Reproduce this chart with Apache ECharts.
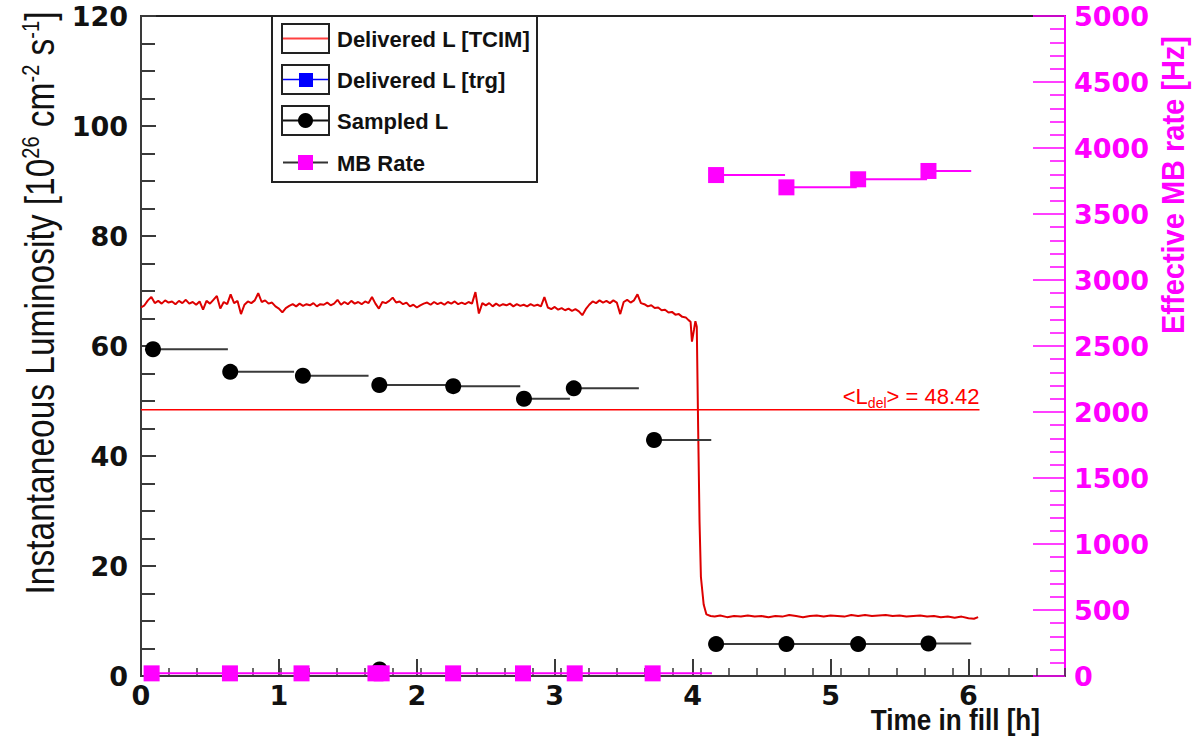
<!DOCTYPE html>
<html>
<head>
<meta charset="utf-8">
<script src="https://cdn.jsdelivr.net/npm/echarts@6/dist/echarts.min.js"></script>
<style>
html,body{margin:0;padding:0;background:#fff;}
#chart{width:1198px;height:744px;}
</style>
</head>
<body>
<div id="chart"></div>
<script>
// ---------------- DATA ----------------
// Delivered L [TCIM] trace (time in h, luminosity 1e26 cm^-2 s^-1)
const traceTime = [0.000,0.025,0.050,0.075,0.100,0.125,0.150,0.175,0.200,0.225,0.250,0.275,0.300,0.325,0.350,0.375,0.400,0.425,0.450,0.475,0.500,0.525,0.550,0.575,0.600,0.625,0.650,0.675,0.700,0.725,0.750,0.775,0.800,0.825,0.850,0.875,0.900,0.925,0.950,0.975,1.000,1.025,1.050,1.075,1.100,1.125,1.150,1.175,1.200,1.225,1.250,1.275,1.300,1.325,1.350,1.375,1.400,1.425,1.450,1.475,1.500,1.525,1.550,1.575,1.600,1.625,1.650,1.675,1.700,1.725,1.750,1.775,1.800,1.825,1.850,1.875,1.900,1.925,1.950,1.975,2.000,2.025,2.050,2.075,2.100,2.125,2.150,2.175,2.200,2.225,2.250,2.275,2.300,2.325,2.350,2.375,2.400,2.425,2.450,2.475,2.500,2.525,2.550,2.575,2.600,2.625,2.650,2.675,2.700,2.725,2.750,2.775,2.800,2.825,2.850,2.875,2.900,2.925,2.950,2.975,3.000,3.025,3.050,3.075,3.100,3.125,3.150,3.175,3.200,3.225,3.250,3.275,3.300,3.325,3.350,3.375,3.400,3.425,3.450,3.475,3.500,3.525,3.550,3.575,3.600,3.625,3.650,3.675,3.700,3.725,3.750,3.775,3.800,3.825,3.850,3.875,3.900,3.925,3.950,3.970,3.985,3.995,4.010,4.020,4.030,4.040,4.050,4.060,4.080,4.100,4.130,4.160,4.200,4.250,4.300,4.350,4.400,4.450,4.500,4.550,4.600,4.650,4.700,4.750,4.800,4.850,4.900,4.950,5.000,5.050,5.100,5.150,5.200,5.250,5.300,5.350,5.400,5.450,5.500,5.550,5.600,5.650,5.700,5.750,5.800,5.850,5.900,5.950,6.000,6.040,6.070];
const traceLumi = [67.0,67.4,68.3,68.9,67.8,68.2,67.7,68.3,67.9,68.1,67.6,68.2,67.8,68.4,67.7,68.0,67.5,68.1,66.6,68.2,67.7,68.4,69.1,66.8,68.0,67.6,69.4,67.8,68.2,65.8,67.5,68.1,67.8,68.3,69.6,68.0,68.3,67.7,67.9,67.2,66.8,66.1,66.9,67.3,67.6,67.2,67.7,67.3,67.6,67.4,67.8,67.2,67.6,67.5,67.9,67.4,67.7,68.4,67.5,68.0,67.6,68.2,67.7,68.0,67.6,68.1,67.8,68.9,67.7,66.8,68.0,67.8,68.2,68.8,67.9,68.1,67.6,67.9,67.2,67.5,67.0,67.4,67.7,67.9,67.5,68.0,67.6,67.9,67.5,68.0,67.7,68.1,67.6,67.9,67.6,68.0,67.7,69.8,65.9,67.8,67.4,67.8,67.2,67.7,67.3,67.6,67.4,67.7,67.2,67.6,67.3,67.5,67.2,67.6,67.3,67.5,67.2,68.9,67.0,66.7,67.1,66.6,66.9,66.5,66.8,66.4,66.7,66.3,65.6,66.7,67.5,68.1,67.8,68.3,67.9,68.2,67.8,68.3,67.9,65.8,68.0,68.4,67.9,68.3,69.4,67.8,67.6,67.2,67.4,66.9,67.0,66.5,66.6,66.1,66.2,65.7,65.8,65.3,65.2,64.7,64.4,60.8,63.0,64.5,63.5,45.0,28.0,18.0,13.0,11.2,10.9,10.8,11.0,10.7,10.9,10.8,11.0,10.8,10.9,10.7,10.9,10.8,11.1,10.9,10.7,10.9,11.0,10.8,11.0,10.9,10.8,11.1,10.9,11.1,10.9,11.0,11.1,10.9,11.0,10.8,10.9,11.0,10.8,10.9,10.7,10.8,10.6,10.8,10.5,10.4,10.7];

// Mean delivered luminosity
const meanLumi = 48.42;
const meanStart = 0;
const meanEnd = 6.08;

// Sampled L (time, bin end, value)
const sampledTime = [0.087,0.647,1.174,1.728,1.73,2.264,2.777,3.138,3.72,4.17,4.68,5.20,5.71];
const sampledEnd  = [0.63,1.11,1.65,2.26,1.73,2.75,3.11,3.61,4.135,4.68,5.20,5.71,6.02];
const sampledLumi = [59.4,55.3,54.6,52.9,1.2,52.7,50.4,52.3,42.9,5.8,5.8,5.8,5.9];

// MB rate (time, bin end, Hz)
const mbTime = [0.077,0.645,1.164,1.70,1.745,2.263,2.77,3.145,3.71,4.17,4.68,5.20,5.71];
const mbEnd  = [0.645,1.164,1.70,1.745,2.263,2.77,3.145,3.71,4.14,4.67,5.19,5.70,6.02];
const mbRate = [20,20,20,20,20,20,20,20,20,3795,3702,3763,3826];

const legendNames = ['Delivered L [TCIM]','Delivered L [trg]','Sampled L','MB Rate'];
const xTitle = 'Time in fill [h]';
const yTitle = 'Instantaneous Luminosity [10{sup|26} cm{sup|-2} s{sup|-1}]';
const y2Title = 'Effective MB rate [Hz]';

// ---------------- CHART ----------------
const chart = echarts.init(document.getElementById('chart'), null, {renderer:'svg'});

const traceData = traceTime.map((t,i)=>[t, traceLumi[i]]);
const sampledBars = sampledTime.map((t,i)=>[t, sampledEnd[i], sampledLumi[i]]);
const sampledPts = sampledTime.map((t,i)=>[t, sampledLumi[i]]);
const mbBars = mbTime.map((t,i)=>[t, mbEnd[i], mbRate[i]]);
const mbPts = mbTime.map((t,i)=>[t, mbRate[i]]);

const MAG = '#ff00ff';
const AX = '#3a3a3a';
const tickFont = {fontFamily:'DejaVu Sans', fontWeight:'bold', fontSize:27};

function barRender(color){
  return function(params, api){
    const a = api.coord([api.value(0), api.value(2)]);
    const b = api.coord([api.value(1), api.value(2)]);
    return {type:'line', shape:{x1:a[0],y1:a[1],x2:b[0],y2:b[1]}, style:{stroke:color, lineWidth:2}};
  };
}

const LF = {fontFamily:'Liberation Sans', fontWeight:'bold', fontSize:22, fill:'#111', verticalAlign:'middle'};
const legendGraphic = [
  {type:'rect', shape:{x:272, y:16, width:265, height:166}, style:{fill:'#fff', stroke:'#222', lineWidth:2}, z:100},
  // row 1
  {type:'rect', shape:{x:282, y:24, width:47, height:29}, style:{fill:'#fff', stroke:'#222', lineWidth:2}, z:101},
  {type:'line', shape:{x1:283, y1:38.5, x2:328, y2:38.5}, style:{stroke:'#ff4040', lineWidth:2}, z:102},
  {type:'text', x:337, y:39, style:Object.assign({text:legendNames[0]}, LF), z:102},
  // row 2
  {type:'rect', shape:{x:282, y:65, width:47, height:29}, style:{fill:'#fff', stroke:'#222', lineWidth:2}, z:101},
  {type:'line', shape:{x1:283, y1:79.5, x2:328, y2:79.5}, style:{stroke:'#0000ff', lineWidth:1.5}, z:102},
  {type:'rect', shape:{x:299, y:73, width:14, height:14}, style:{fill:'#0000ff'}, z:103},
  {type:'text', x:337, y:80, style:Object.assign({text:legendNames[1]}, LF), z:102},
  // row 3
  {type:'rect', shape:{x:282, y:106, width:47, height:29}, style:{fill:'#fff', stroke:'#222', lineWidth:2}, z:101},
  {type:'line', shape:{x1:283, y1:120.5, x2:328, y2:120.5}, style:{stroke:'#111', lineWidth:2}, z:102},
  {type:'circle', shape:{cx:305.5, cy:120.5, r:7.5}, style:{fill:'#000'}, z:103},
  {type:'text', x:337, y:121, style:Object.assign({text:legendNames[2]}, LF), z:102},
  // row 4
  {type:'line', shape:{x1:283, y1:162.5, x2:328, y2:162.5}, style:{stroke:'#333', lineWidth:2}, z:102},
  {type:'rect', shape:{x:298, y:155, width:15, height:15}, style:{fill:MAG}, z:103},
  {type:'text', x:337, y:163, style:Object.assign({text:legendNames[3]}, LF), z:102},
  // axis titles
  {type:'text', x:40, y:303, rotation:Math.PI/2, scaleY:1.2, style:{text:yTitle, fontFamily:'Liberation Sans', fontSize:33.5, fill:'#111', align:'center', verticalAlign:'middle',
     rich:{sup:{fontSize:20, fontFamily:'Liberation Sans', fill:'#111', verticalAlign:'top', padding:[0,0,16,0]}}}, z:100},
  {type:'text', x:1172, y:185, rotation:Math.PI/2, scaleY:1.1, style:{text:y2Title, fontFamily:'Liberation Sans', fontWeight:'bold', fontSize:29, fill:MAG, align:'center', verticalAlign:'middle'}, z:100},
  {type:'text', x:1040, y:720, scaleX:0.87, style:{text:xTitle, fontFamily:'Liberation Sans', fontWeight:'bold', fontSize:30, fill:'#111', align:'right', verticalAlign:'middle'}, z:100}
];

const option = {
  animation:false,
  backgroundColor:'#fff',
  grid:{left:141, right:133, top:16, bottom:68, show:true, borderColor:'#222', borderWidth:2, backgroundColor:'transparent'},
  xAxis:[
    {type:'value', min:0, max:6.7, interval:1, position:'bottom',
     axisLine:{show:true, onZero:false, lineStyle:{color:AX, width:2}},
     axisTick:{show:true, inside:true, length:17, lineStyle:{color:AX, width:2}},
     axisLabel:Object.assign({color:'#111', margin:6, showMaxLabel:false}, tickFont),
     splitLine:{show:false}},
    {type:'value', min:0, max:6.6, interval:0.2, position:'bottom', gridIndex:0,
     axisLine:{show:false}, axisLabel:{show:false},
     axisTick:{show:true, inside:true, length:8, lineStyle:{color:AX, width:1.5}},
     splitLine:{show:false}}
  ],
  yAxis:[
    {type:'value', min:0, max:120, interval:20, position:'left',
     axisLine:{show:true, onZero:false, lineStyle:{color:AX, width:2}},
     axisTick:{show:true, inside:true, length:15, lineStyle:{color:AX, width:2}},
     minorTick:{show:true, splitNumber:4, length:14, lineStyle:{color:AX, width:2}},
     axisLabel:Object.assign({color:'#111', margin:13}, tickFont),
     splitLine:{show:false}},
    {type:'value', min:0, max:5000, interval:500, position:'right',
     axisLine:{show:true, onZero:false, lineStyle:{color:MAG, width:2}},
     axisTick:{show:true, inside:true, length:32, lineStyle:{color:MAG, width:1.5}},
     minorTick:{show:true, splitNumber:5, length:15, lineStyle:{color:MAG, width:1.5}},
     axisLabel:Object.assign({color:MAG, margin:9, formatter:function(v){return String(v);}}, tickFont),
     splitLine:{show:false}}
  ],
  graphic:legendGraphic,
  series:[
    {name:legendNames[0], type:'line', xAxisIndex:0, yAxisIndex:0, data:traceData, showSymbol:false, symbol:'none',
     lineStyle:{color:'#dd0000', width:2}, z:2},
    {name:'mean', type:'line', xAxisIndex:0, yAxisIndex:0, symbol:'none', showSymbol:false,
     data:[[meanStart, meanLumi],[meanEnd, meanLumi]],
     lineStyle:{color:'#ff0000', width:1.5}, z:3,
     markPoint:{symbol:'circle', symbolSize:0, silent:true,
       data:[{coord:[meanEnd, meanLumi],
         label:{show:true, position:[0,0], align:'right', verticalAlign:'bottom',
           formatter:'{a|<L}{s|del}{a|> = ' + meanLumi.toFixed(2) + '}',
           rich:{a:{fontFamily:'Liberation Sans', fontSize:22, color:'#ff0000', lineHeight:24},
                 s:{fontFamily:'Liberation Sans', fontSize:14, color:'#ff0000', verticalAlign:'bottom', padding:[13,0,0,0]}}}}]}},
    {name:'sampledBars', type:'custom', xAxisIndex:0, yAxisIndex:0, data:sampledBars, encode:{x:[0,1], y:2},
     renderItem:barRender('#3a3a3a'), z:4},
    {name:legendNames[2], type:'scatter', xAxisIndex:0, yAxisIndex:0, data:sampledPts, symbol:'circle', symbolSize:16,
     itemStyle:{color:'#000', opacity:1}, z:5},
    {name:'mbBars', type:'custom', xAxisIndex:0, yAxisIndex:1, data:mbBars, encode:{x:[0,1], y:2},
     renderItem:barRender(MAG), z:6},
    {name:legendNames[3], type:'scatter', xAxisIndex:0, yAxisIndex:1, data:mbPts, symbol:'rect', symbolSize:16,
     itemStyle:{color:MAG, opacity:1}, z:7}
  ]
};
chart.setOption(option);
</script>
</body>
</html>
